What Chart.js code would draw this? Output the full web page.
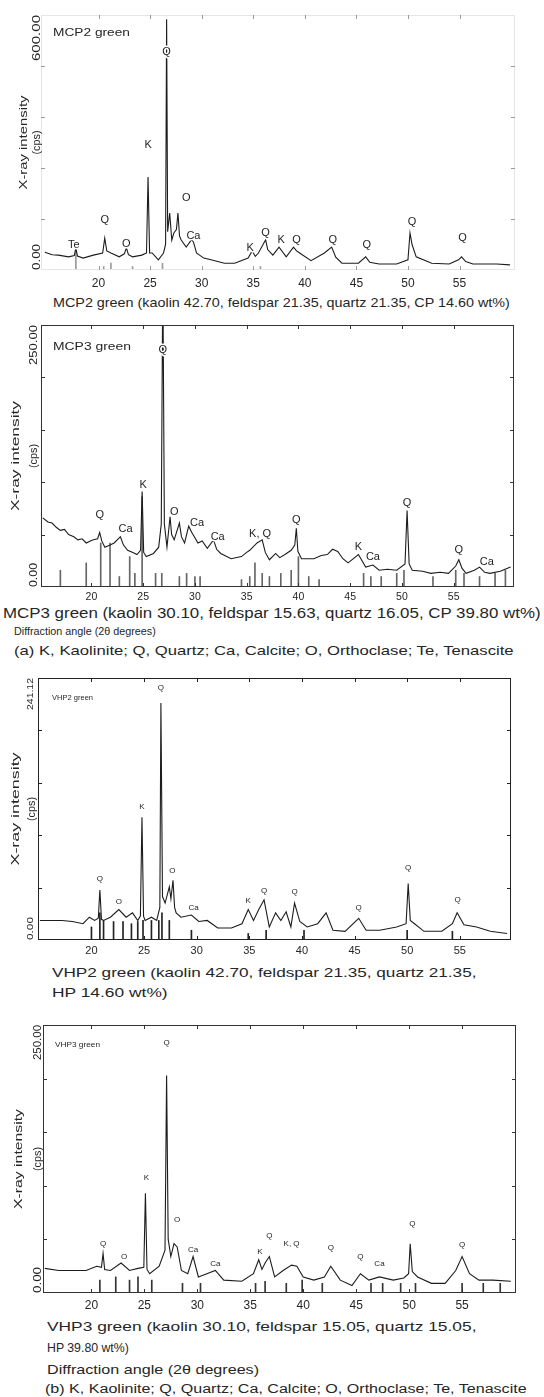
<!DOCTYPE html>
<html>
<head>
<meta charset="utf-8">
<script src="https://cdn.jsdelivr.net/npm/chart.js@4.4.1/dist/chart.umd.min.js"></script>
<style>
  body { margin: 0; width: 544px; height: 1397px; position: relative; overflow: hidden; background: #fff;
         font-family: "Liberation Sans", Arial, sans-serif; color: #262626; }
  canvas { position: absolute; left: 0; }
  .cap { position: absolute; white-space: nowrap; line-height: 1; transform-origin: 0 50%; }
</style>
</head>
<body>
<canvas id="mcp2" width="544" height="292" style="top:0px"></canvas>
<canvas id="mcp3" width="544" height="295" style="top:310px"></canvas>
<canvas id="vhp2" width="544" height="290" style="top:665px"></canvas>
<canvas id="vhp3" width="544" height="302" style="top:1013px"></canvas>

<div class="cap" data-w="457" style="left:53px;top:296px;font-size:13px">MCP2 green (kaolin 42.70, feldspar 21.35, quartz 21.35, CP 14.60 wt%)</div>
<div class="cap" data-w="538" style="left:3px;top:606px;font-size:14px">MCP3 green (kaolin 30.10, feldspar 15.63, quartz 16.05, CP 39.80 wt%)</div>
<div class="cap" data-w="142" style="left:14px;top:626px;font-size:11px">Diffraction angle (2θ degrees)</div>
<div class="cap" data-w="500" style="left:14px;top:644px;font-size:13px">(a) K, Kaolinite; Q, Quartz; Ca, Calcite; O, Orthoclase; Te, Tenascite</div>
<div class="cap" data-w="425" style="left:52px;top:966px;font-size:13px">VHP2 green (kaolin 42.70, feldspar 21.35, quartz 21.35,</div>
<div class="cap" data-w="115" style="left:52px;top:986px;font-size:13px">HP 14.60 wt%)</div>
<div class="cap" data-w="430" style="left:47px;top:1320px;font-size:13px">VHP3 green (kaolin 30.10, feldspar 15.05, quartz 15.05,</div>
<div class="cap" data-w="82" style="left:47px;top:1342px;font-size:12px">HP 39.80 wt%)</div>
<div class="cap" data-w="212" style="left:47px;top:1363px;font-size:13px">Diffraction angle (2θ degrees)</div>
<div class="cap" data-w="482" style="left:45px;top:1383px;font-size:12px">(b) K, Kaolinite; Q, Quartz; Ca, Calcite; O, Orthoclase; Te, Tenascite</div>

<script>
// 2θ tick positions shared by all four scans
const xTickValues = [20, 25, 30, 35, 40, 45, 50, 55];

// ---- MCP2 green
const mcp2Angle = [14.8, 15.5, 16.1, 17.1, 17.65, 17.8, 17.95, 18.5, 19.5, 20.4, 20.6, 20.8, 21.2, 22.0, 22.5, 22.7, 22.9, 23.3,
  24.2, 24.65, 24.8, 24.95, 25.2, 25.8, 26.3, 26.5, 26.6, 26.7, 26.9, 27.1, 27.3, 27.55, 27.7, 27.85, 28.0, 28.5, 29.0, 29.2,
  29.5, 30.2, 30.9, 32.2, 33.2, 34.5, 34.9, 35.2, 35.5, 36.2, 36.4, 36.9, 37.5, 38.2, 38.9, 39.2, 39.5, 40.6, 41.9, 42.6,
  43.0, 43.6, 45.2, 45.9, 46.3, 47.2, 48.9, 50.0, 50.2, 50.4, 50.8, 52.3, 54.0, 54.9, 55.2, 55.6, 56.3, 58.6, 59.9];
const mcp2Counts = [42, 36, 35, 31, 34, 52, 33, 28, 35, 40, 75, 45, 40, 31, 38, 52, 36, 31,
  35, 40, 219, 40, 40, 24, 40, 60, 590, 90, 134, 70, 87, 95, 134, 80, 71, 54, 71, 66,
  40, 28, 24, 16, 16, 28, 45, 32, 40, 71, 48, 35, 54, 31, 54, 45, 40, 22, 40, 54,
  30, 16, 16, 31, 18, 14, 14, 24, 87, 60, 31, 16, 14, 24, 31, 20, 14, 14, 12];
const mcp2StickAngle = [17.8, 20.5, 21.2, 23.3, 26.2, 35.7];
const mcp2StickCounts = [55, 8, 16, 8, 16, 8];
const mcp2TagAngle = [17.6, 20.6, 22.7, 24.8, 26.6, 28.5, 29.2, 34.7, 36.2, 37.7, 39.2, 42.7, 46.0, 50.4, 55.3];
const mcp2TagLevel = [59, 118, 62, 294, 514, 169, 80, 51, 86, 71, 71, 71, 59, 114, 75];
const mcp2TagText = ['Te', 'Q', 'O', 'K', 'Q', 'O', 'Ca', 'K', 'Q', 'K', 'Q', 'Q', 'Q', 'Q', 'Q'];
const mcp2YLabels = ['0.00', '600.00'];

// ---- MCP3 green
const mcp3Angle = [15.3, 15.8, 16.2, 16.6, 17.0, 17.4, 17.8, 18.3, 18.7, 19.1, 19.5, 19.9, 20.2, 20.6, 20.8, 21.0, 21.3, 21.8,
  22.2, 22.8, 23.1, 23.5, 24.0, 24.4, 24.75, 24.9, 25.05, 25.3, 26.0, 26.5, 26.75, 26.9, 27.05, 27.3, 27.6, 27.75, 28.0,
  28.5, 28.7, 29.0, 29.4, 29.7, 30.3, 30.7, 31.2, 31.8, 32.1, 32.5, 33.5, 34.5, 35.0, 35.3, 36.0, 36.5, 36.8, 37.2, 37.8,
  38.2, 38.7, 39.3, 39.65, 39.8, 39.95, 40.3, 41.5, 42.2, 42.8, 43.3, 43.8, 44.3, 44.8, 45.8, 46.5, 47.2, 47.8, 48.6, 49.5,
  50.3, 50.5, 50.7, 51.0, 52.0, 52.8, 53.7, 54.5, 55.2, 55.5, 55.8, 56.2, 57.0, 57.5, 58.0, 58.5, 59.5, 60.5];
const mcp3Counts = [66, 62, 61, 57, 54, 55, 50, 48, 45, 46, 42, 44, 45, 46, 52, 44, 38, 40,
  42, 48, 40, 35, 33, 31, 35, 91, 33, 29, 32, 38, 60, 300, 60, 38, 67, 50, 45,
  61, 48, 42, 58, 52, 42, 44, 37, 45, 36, 32, 27, 29, 33, 35, 42, 45, 33, 26, 32,
  28, 31, 35, 40, 56, 34, 27, 27, 30, 31, 36, 34, 27, 23, 31, 19, 21, 16, 17, 16,
  22, 73, 22, 16, 15, 13, 14, 13, 20, 26, 18, 13, 16, 19, 14, 13, 15, 19];
const mcp3StickAngle = [17.0, 19.5, 20.9, 21.8, 22.7, 23.7, 24.2, 24.9, 26.2, 26.8, 28.5, 29.2, 30.0, 30.5, 34.5, 35.3, 35.8,
  36.5, 37.2, 38.3, 39.3, 40.0, 41.0, 42.0, 46.3, 47.0, 48.0, 49.5, 50.2, 53.0, 55.2, 56.0, 57.5, 59.0, 60.0];
const mcp3StickCounts = [16, 23, 42, 42, 10, 29, 13, 86, 13, 13, 10, 13, 10, 10, 7, 10, 23,
  13, 10, 13, 16, 29, 10, 7, 13, 10, 10, 13, 16, 10, 16, 13, 10, 13, 16];
const mcp3TagAngle = [20.8, 23.3, 25.0, 26.9, 28.0, 30.2, 32.2, 36.3, 39.8, 45.8, 47.2, 50.5, 55.5, 58.2];
const mcp3TagLevel = [69, 55, 97, 226, 72, 61, 48, 51, 64, 38, 29, 80, 35, 24];
const mcp3TagText = ['Q', 'Ca', 'K', 'Q', 'O', 'Ca', 'Ca', 'K, Q', 'Q', 'K', 'Ca', 'Q', 'Q', 'Ca'];
const mcp3YLabels = ['0.00', '250.00'];

// ---- VHP2 green
const vhp2Angle = [15.1, 16.2, 17.2, 18.2, 19.2, 19.8, 20.3, 20.65, 20.8, 20.95, 21.15, 21.8, 22.6, 23.3, 23.9, 24.4, 24.65,
  24.8, 24.95, 25.1, 25.7, 26.2, 26.5, 26.6, 26.75, 27.0, 27.4, 27.55, 27.75, 27.9, 28.05, 28.5, 29.5, 30.2, 31.0, 32.0,
  33.3, 34.3, 34.9, 35.4, 35.9, 36.4, 36.9, 37.5, 38.0, 38.5, 38.95, 39.3, 39.8, 40.5, 41.5, 42.3, 42.95, 44.1, 45.4, 46.1,
  47.4, 49.0, 49.9, 50.1, 50.3, 50.7, 51.6, 53.3, 54.3, 54.75, 55.4, 56.6, 57.9, 59.5];
const vhp2Counts = [18, 18, 18, 17, 15, 21, 18, 20, 46, 19, 18, 21, 28, 21, 25, 18, 22,
  113, 22, 18, 21, 18, 30, 218, 40, 34, 49, 38, 55, 30, 25, 21, 23, 17, 18, 11,
  11, 15, 28, 18, 28, 37, 12, 25, 18, 26, 12, 34, 17, 12, 15, 25, 9, 8, 20, 9,
  9, 12, 15, 52, 18, 15, 8, 8, 15, 25, 14, 12, 8, 6];
const vhp2StickAngle = [20.0, 20.8, 21.15, 22.1, 23.0, 23.8, 24.4, 24.9, 25.7, 26.4, 26.7, 27.4, 29.5, 34.9, 36.6, 40.2, 50.0, 54.3];
const vhp2StickCounts = [12, 25, 18, 17, 17, 15, 17, 18, 18, 18, 25, 18, 9, 6, 9, 9, 9, 8];
const vhp2TagAngle = [20.8, 22.6, 24.8, 26.6, 27.7, 29.7, 34.9, 36.4, 39.3, 45.4, 50.1, 54.8];
const vhp2TagLevel = [56, 35, 123, 232, 64, 30, 36, 45, 44, 30, 66, 37];
const vhp2TagText = ['Q', 'O', 'K', 'Q', 'O', 'Ca', 'K', 'Q', 'Q', 'Q', 'Q', 'Q'];
const vhp2YLabels = ['0.00', '241.12'];

// ---- VHP3 green
const vhp3Angle = [15.6, 16.9, 18.2, 19.5, 20.5, 20.95, 21.1, 21.25, 21.8, 22.8, 23.6, 24.4, 24.95, 25.1, 25.25, 25.5, 26.4,
  26.95, 27.1, 27.25, 27.5, 27.8, 28.1, 28.5, 29.1, 29.6, 30.1, 30.9, 31.7, 32.5, 34.2, 35.3, 35.8, 36.1, 36.4, 36.8, 37.3,
  38.1, 38.9, 39.4, 40.0, 41.0, 42.0, 42.6, 43.5, 44.6, 45.4, 46.2, 47.2, 48.5, 49.5, 49.95, 50.1, 50.3, 50.8, 52.1, 53.4,
  54.4, 55.0, 55.7, 56.6, 57.9, 59.6];
const vhp3Counts = [23, 21, 21, 21, 25, 24, 37, 22, 21, 28, 21, 23, 24, 93, 22, 18, 25,
  40, 203, 50, 34, 46, 43, 21, 18, 34, 15, 18, 21, 12, 11, 18, 31, 22, 28, 34, 15,
  21, 26, 25, 15, 12, 15, 25, 12, 7, 18, 12, 15, 12, 14, 18, 46, 20, 15, 9, 9,
  21, 34, 18, 12, 12, 11];
const vhp3StickAngle = [20.8, 22.3, 23.6, 24.4, 25.7, 28.6, 30.3, 35.5, 36.4, 38.4, 39.9, 41.8, 46.4, 47.5, 49.2, 50.6, 55.0, 57.0, 58.6];
const vhp3StickCounts = [12, 15, 12, 15, 12, 9, 9, 9, 11, 9, 12, 9, 9, 9, 9, 9, 9, 9, 9];
const vhp3TagAngle = [21.1, 23.1, 25.2, 27.1, 28.1, 29.6, 31.7, 35.9, 36.8, 38.9, 42.6, 45.4, 47.2, 50.3, 55.0];
const vhp3TagLevel = [46, 34, 107, 233, 68, 40, 27, 38, 53, 46, 42, 34, 27, 65, 45];
const vhp3TagText = ['Q', 'O', 'K', 'Q', 'O', 'Ca', 'Ca', 'K', 'Q', 'K, Q', 'Q', 'Q', 'Ca', 'Q', 'Q'];
const vhp3YLabels = ['0.00', '250.00'];

const FONT = '"Liberation Sans", Arial, sans-serif';

const panels = [
  { id: 'mcp2', name: 'MCP2 green', angle: mcp2Angle, counts: mcp2Counts, stickAngle: mcp2StickAngle, stickCounts: mcp2StickCounts,
    tagAngle: mcp2TagAngle, tagLevel: mcp2TagLevel, tagText: mcp2TagText, yLabels: mcp2YLabels, yMax: 600,
    xMin: 14.42, xMax: 60.38, area: { left: 41, top: 15, right: 515, bottom: 270 },
    frameColor: '#e6e6e6', tickColor: '#9a9a9a', stickColor: '#9a9a9a',
    xFont: 12, xPad: 6, tagFont: 11, nameFont: 10, nameW: 77, nameDx: 12, nameDy: 18,
    yLabelX: 37, yTopW: 46, yZeroW: 26, yFont: 10, titleX: 24, titleW: 94, cpsX: 37, titleFont: 11 },
  { id: 'mcp3', name: 'MCP3 green', angle: mcp3Angle, counts: mcp3Counts, stickAngle: mcp3StickAngle, stickCounts: mcp3StickCounts,
    tagAngle: mcp3TagAngle, tagLevel: mcp3TagLevel, tagText: mcp3TagText, yLabels: mcp3YLabels, yMax: 250,
    xMin: 15.13, xMax: 60.83, area: { left: 41, top: 15, right: 514, bottom: 277 },
    frameColor: '#333', tickColor: '#333', stickColor: '#666',
    xFont: 10.5, xPad: 4, tagFont: 11, nameFont: 11, nameW: 78, nameDx: 12, nameDy: 22,
    yLabelX: 34, yTopW: 40, yZeroW: 24, yFont: 10, titleX: 16, titleW: 110, cpsX: 34, titleFont: 11 },
  { id: 'vhp2', name: 'VHP2 green', angle: vhp2Angle, counts: vhp2Counts, stickAngle: vhp2StickAngle, stickCounts: vhp2StickCounts,
    tagAngle: vhp2TagAngle, tagLevel: vhp2TagLevel, tagText: vhp2TagText, yLabels: vhp2YLabels, yMax: 241.12,
    xMin: 14.92, xMax: 59.87, area: { left: 38, top: 13, right: 511, bottom: 275 },
    frameColor: '#222', tickColor: '#222', stickColor: '#222',
    xFont: 11, xPad: 4, tagFont: 8, nameFont: 7, nameW: 41, nameDx: 14, nameDy: 20,
    yLabelX: 31, yTopW: 32, yZeroW: 23, yFont: 9, titleX: 16, titleW: 113, cpsX: 32, titleFont: 11 },
  { id: 'vhp3', name: 'VHP3 green', angle: vhp3Angle, counts: vhp3Counts, stickAngle: vhp3StickAngle, stickCounts: vhp3StickCounts,
    tagAngle: vhp3TagAngle, tagLevel: vhp3TagLevel, tagText: vhp3TagText, yLabels: vhp3YLabels, yMax: 250,
    xMin: 15.43, xMax: 60.09, area: { left: 43, top: 12, right: 516, bottom: 280 },
    frameColor: '#333', tickColor: '#333', stickColor: '#333',
    xFont: 12, xPad: 5, tagFont: 8, nameFont: 7, nameW: 45, nameDx: 12, nameDy: 20,
    yLabelX: 38, yTopW: 35, yZeroW: 26, yFont: 10, titleX: 19, titleW: 100, cpsX: 38, titleFont: 11 }
];

function toPoints(xs, ys) {
  return xs.map((x, i) => ({ x: x, y: ys[i] }));
}

// draw text squeezed or stretched to a given width
function fitText(ctx, str, x, y, w) {
  const k = w / ctx.measureText(str).width;
  ctx.save();
  ctx.translate(x, y);
  ctx.scale(k, 1);
  ctx.fillText(str, 0, 0);
  ctx.restore();
}

function sideText(ctx, str, x, y, w, align) {
  ctx.save();
  ctx.translate(x, y);
  ctx.rotate(-Math.PI / 2);
  ctx.textAlign = align;
  fitText(ctx, str, 0, 0, w);
  ctx.restore();
}

function makeDecor(p) {
  return {
    id: 'xrdDecor',
    afterDatasetsDraw(chart) {
      const ctx = chart.ctx, a = chart.chartArea;
      const xs = chart.scales.x, ys = chart.scales.y;
      ctx.save();

      // box round the plot
      ctx.lineWidth = 1;
      ctx.strokeStyle = p.frameColor;
      ctx.strokeRect(a.left + 0.5, a.top + 0.5, a.right - a.left - 1, a.bottom - a.top - 1);

      // short inward tick marks
      ctx.strokeStyle = p.tickColor;
      ctx.beginPath();
      xTickValues.forEach(v => {
        const px = Math.round(xs.getPixelForValue(v)) + 0.5;
        ctx.moveTo(px, a.top); ctx.lineTo(px, a.top + 4);
        ctx.moveTo(px, a.bottom); ctx.lineTo(px, a.bottom - 4);
      });
      for (let k = 1; k < 5; k++) {
        const py = Math.round(ys.getPixelForValue(p.yMax * k / 5)) + 0.5;
        ctx.moveTo(a.left, py); ctx.lineTo(a.left + 4, py);
        ctx.moveTo(a.right, py); ctx.lineTo(a.right - 4, py);
      }
      ctx.stroke();

      // phase letters over the reflections
      ctx.font = p.tagFont + 'px ' + FONT;
      ctx.textAlign = 'center';
      ctx.textBaseline = 'middle';
      ctx.lineJoin = 'round';
      p.tagText.forEach((t, i) => {
        const px = xs.getPixelForValue(p.tagAngle[i]);
        const py = ys.getPixelForValue(p.tagLevel[i]);
        ctx.strokeStyle = '#fff';
        ctx.lineWidth = 3;
        ctx.strokeText(t, px, py);
        ctx.fillStyle = '#1e1e1e';
        ctx.fillText(t, px, py);
      });

      // sample name in the corner
      ctx.fillStyle = '#262626';
      ctx.textAlign = 'left';
      ctx.font = p.nameFont + 'px ' + FONT;
      fitText(ctx, p.name, a.left + p.nameDx, a.top + p.nameDy, p.nameW);

      // intensity axis: end values and title, set on their side
      ctx.font = p.yFont + 'px ' + FONT;
      sideText(ctx, p.yLabels[1], p.yLabelX, a.top, p.yTopW, 'right');
      sideText(ctx, p.yLabels[0], p.yLabelX, a.bottom, p.yZeroW, 'left');
      const mid = (a.top + a.bottom) / 2;
      ctx.font = p.titleFont + 'px ' + FONT;
      sideText(ctx, 'X-ray intensity', p.titleX, mid, p.titleW, 'center');
      ctx.font = (p.titleFont - 1) + 'px ' + FONT;
      sideText(ctx, '(cps)', p.cpsX, mid, 24, 'center');

      ctx.restore();
    }
  };
}

panels.forEach(p => {
  const el = document.getElementById(p.id);
  const W = el.width, H = el.height;
  new Chart(el, {
    type: 'line',
    data: {
      datasets: [{
        type: 'line',
        data: toPoints(p.angle, p.counts),
        borderColor: '#1c1c1c',
        borderWidth: 1.1,
        pointRadius: 0,
        tension: 0,
        order: 0
      }, {
        type: 'bar',
        data: toPoints(p.stickAngle, p.stickCounts),
        backgroundColor: p.stickColor,
        barThickness: 1,
        order: 1
      }]
    },
    options: {
      responsive: false,
      animation: false,
      events: [],
      devicePixelRatio: 1,
      layout: { padding: { left: p.area.left, top: p.area.top, right: W - p.area.right, bottom: 0 } },
      plugins: { legend: { display: false }, tooltip: { enabled: false } },
      scales: {
        x: {
          type: 'linear',
          min: p.xMin,
          max: p.xMax,
          offset: false,
          afterBuildTicks: s => { s.ticks = xTickValues.map(v => ({ value: v })); },
          afterFit: s => { s.height = H - p.area.bottom; },
          grid: { display: false, drawTicks: false },
          border: { display: false },
          ticks: { color: '#262626', font: { size: p.xFont, family: FONT }, padding: p.xPad,
                   maxRotation: 0, autoSkip: false }
        },
        y: { display: false, min: 0, max: p.yMax }
      }
    },
    plugins: [makeDecor(p)]
  });
});

// stretch the caption lines to their measured widths
document.querySelectorAll('.cap').forEach(el => {
  el.style.transform = 'scaleX(' + (el.dataset.w / el.offsetWidth) + ')';
});
</script>
</body>
</html>
